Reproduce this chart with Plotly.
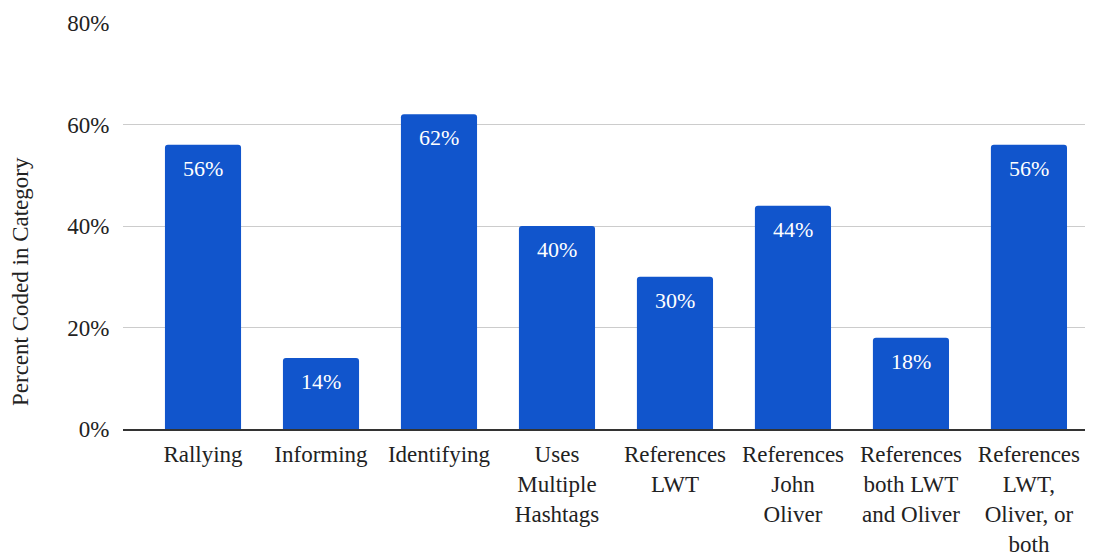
import plotly.graph_objects as go

categories = ["Rallying", "Informing", "Identifying", "Uses<br>Multiple<br>Hashtags",
              "References<br>LWT", "References<br>John<br>Oliver",
              "References<br>both LWT<br>and Oliver", "References<br>LWT,<br>Oliver, or<br>both"]
values = [56, 14, 62, 40, 30, 44, 18, 56]
value_labels = [f"{v}%" for v in values]
y_ticks = [0, 20, 40, 60, 80]
y_tick_labels = [f"{t}%" for t in y_ticks]

FONT = "Liberation Serif"
BLUE = "#1155cc"
xs = list(range(len(categories)))

fig = go.Figure()
fig.add_trace(go.Bar(x=xs, y=values, marker_color=BLUE, width=0.645,
                     marker_line_width=0, hoverinfo="skip"))

for x, v, lab in zip(xs, values, value_labels):
    fig.add_annotation(x=x, y=v, text=lab, showarrow=False, yanchor="top",
                       yshift=-9, font=dict(family=FONT, size=22, color="white"))

fig.update_layout(
    width=1097, height=552,
    margin=dict(l=123, r=12, t=23, b=123, autoexpand=False),
    paper_bgcolor="white", plot_bgcolor="white",
    showlegend=False,
    barcornerradius=3,
    xaxis=dict(range=[-0.678, 7.475], tickmode="array", tickvals=xs, ticktext=categories,
               showgrid=False, showline=True, linecolor="#333", linewidth=1.5,
               ticks="outside", ticklen=4, tickcolor="rgba(0,0,0,0)", automargin=False,
               tickfont=dict(family=FONT, size=23, color="#222"), fixedrange=True),
    yaxis=dict(range=[0, 80], tickmode="array", tickvals=y_ticks, ticktext=y_tick_labels,
               showgrid=True, gridcolor="#cccccc", gridwidth=1.3, zeroline=False,
               showline=False, ticks="outside", ticklen=8, tickcolor="rgba(0,0,0,0)",
               automargin=False,
               tickfont=dict(family=FONT, size=23, color="#222"), fixedrange=True),
)

fig.add_annotation(xref="paper", yref="paper", x=(20 - 123) / 962, y=(429 - 282) / 406,
                   xanchor="center", yanchor="middle", textangle=-90, showarrow=False,
                   text="Percent Coded in Category",
                   font=dict(family=FONT, size=23, color="#222"))

fig.write_html("out.html")
